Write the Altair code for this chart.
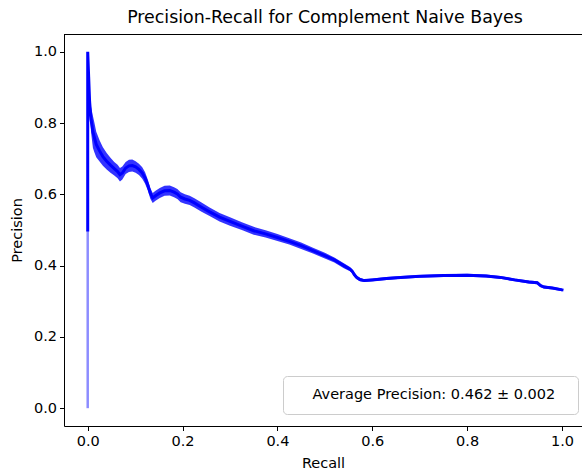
import altair as alt
import pandas as pd

# Mean precision-recall curve across folds, with the fold-to-fold spread
recall = [0.000, 0.002, 0.004, 0.007, 0.011, 0.014, 0.018, 0.025, 0.032, 0.040,
          0.048, 0.056, 0.063, 0.068, 0.073, 0.080, 0.087, 0.094, 0.101, 0.108,
          0.115, 0.121, 0.127, 0.132, 0.137, 0.143, 0.152, 0.162, 0.173, 0.182,
          0.189, 0.196, 0.205, 0.215, 0.225, 0.240, 0.257, 0.278, 0.300, 0.325,
          0.350, 0.375, 0.400, 0.425, 0.450, 0.475, 0.500, 0.520, 0.540, 0.553,
          0.558, 0.562, 0.567, 0.574, 0.583, 0.600, 0.630, 0.660, 0.700, 0.750,
          0.800, 0.840, 0.870, 0.900, 0.930, 0.948, 0.955, 0.962, 0.980, 1.000]
precision = [1.000, 0.930, 0.860, 0.810, 0.775, 0.760, 0.740, 0.722, 0.706, 0.693,
             0.682, 0.672, 0.664, 0.655, 0.660, 0.674, 0.680, 0.681, 0.677, 0.670,
             0.660, 0.646, 0.625, 0.603, 0.590, 0.596, 0.604, 0.610, 0.611, 0.606,
             0.601, 0.592, 0.587, 0.583, 0.576, 0.564, 0.551, 0.536, 0.524, 0.511,
             0.498, 0.489, 0.479, 0.468, 0.456, 0.442, 0.428, 0.416, 0.400, 0.390,
             0.384, 0.375, 0.367, 0.361, 0.358, 0.360, 0.364, 0.367, 0.370, 0.372,
             0.373, 0.371, 0.367, 0.360, 0.354, 0.352, 0.344, 0.340, 0.337, 0.332]
spread = [0.000, 0.006, 0.015, 0.035, 0.045, 0.042, 0.036, 0.030, 0.026, 0.023,
          0.021, 0.019, 0.019, 0.019, 0.018, 0.017, 0.017, 0.017, 0.016, 0.016,
          0.016, 0.016, 0.015, 0.015, 0.014, 0.014, 0.014, 0.014, 0.014, 0.014,
          0.014, 0.014, 0.013, 0.013, 0.013, 0.013, 0.012, 0.012, 0.012, 0.011,
          0.011, 0.010, 0.010, 0.009, 0.009, 0.008, 0.008, 0.007, 0.007, 0.006,
          0.006, 0.006, 0.005, 0.005, 0.004, 0.004, 0.004, 0.004, 0.004, 0.004,
          0.004, 0.004, 0.004, 0.004, 0.004, 0.004, 0.004, 0.004, 0.004, 0.004]

# Vertical stem at recall 0 (only one fold reaches down to zero precision)
stem_recall = [0.0, 0.0]
stem_precision = [0.0, 0.5]

x_ticks = [0.0, 0.2, 0.4, 0.6, 0.8, 1.0]
y_ticks = [0.0, 0.2, 0.4, 0.6, 0.8, 1.0]
legend_label = "Average Precision: 0.462 ± 0.002"

BLUE = "#0000ff"
FONT = "DejaVu Sans"
W, H = 518, 392

band_df = pd.DataFrame({"recall": recall, "precision": precision, "spread": spread})
band_df["lo"] = band_df["precision"] - band_df["spread"]
band_df["hi"] = band_df["precision"] + band_df["spread"]

mean_df = pd.DataFrame({
    "recall": [stem_recall[-1]] + recall,
    "precision": [stem_precision[-1]] + precision,
})
mean_df["step"] = range(len(mean_df))
mean_df["label"] = legend_label

stem_df = pd.DataFrame({"recall": stem_recall, "precision": stem_precision})
frame_df = pd.DataFrame({"k": [0]})

x_scale = alt.Scale(domain=[-0.05, 1.0422], nice=False, zero=False)
y_scale = alt.Scale(domain=[-0.05, 1.05], nice=False, zero=False)

x_axis = alt.Axis(values=x_ticks, format=".1f", title="Recall", grid=False,
                  tickSize=4.5, labelPadding=3.5, titlePadding=9)
y_axis = alt.Axis(values=y_ticks, format=".1f", title="Precision", grid=False,
                  tickSize=4.5, labelPadding=3, titlePadding=8.5)

band = alt.Chart(band_df).mark_area(color=BLUE, opacity=0.8).encode(
    x=alt.X("recall:Q", scale=x_scale, axis=x_axis),
    y=alt.Y("lo:Q", scale=y_scale, axis=y_axis),
    y2=alt.Y2("hi:Q"),
)

stem = alt.Chart(stem_df).mark_line(color=BLUE, opacity=0.45, strokeWidth=2.5).encode(
    x=alt.X("recall:Q", scale=x_scale, axis=x_axis),
    y=alt.Y("precision:Q", scale=y_scale, axis=y_axis),
)

mean_line = alt.Chart(mean_df).mark_line(strokeWidth=3, strokeCap="square").encode(
    x=alt.X("recall:Q", scale=x_scale, axis=x_axis),
    y=alt.Y("precision:Q", scale=y_scale, axis=y_axis),
    order=alt.Order("step:Q"),
    color=alt.Color(
        "label:N",
        scale=alt.Scale(domain=[legend_label], range=[BLUE]),
        legend=alt.Legend(
            orient="none", legendX=219, legendY=342, title=None,
            symbolSize=0, symbolStrokeWidth=0, symbolOpacity=0,
            labelFontSize=14.5, labelColor="black", labelFont=FONT,
            labelOffset=3, labelLimit=400, padding=12,
            labelExpr="datum.label + '\u2800'",
            strokeColor="#cccccc", fillColor="white", cornerRadius=4,
        ),
    ),
)

# Top spine of the axes frame
top_spine = alt.Chart(frame_df).mark_rule(color="black", strokeWidth=1).encode(
    x=alt.value(0), x2=alt.value(W), y=alt.value(0.5),
)

chart = alt.layer(band, stem, mean_line, top_spine).properties(
    width=W,
    height=H,
    padding={"left": 64, "top": 34, "right": 0, "bottom": 50},
    autosize=alt.AutoSizeParams(type="none"),
    title=alt.TitleParams(
        "Precision-Recall for Complement Naive Bayes",
        fontSize=17.4, font=FONT, fontWeight="normal", color="black",
        anchor="middle", offset=8, dx=2,
    ),
).configure(
    font=FONT,
).configure_view(
    strokeWidth=0,
).configure_axis(
    domainColor="black", domainWidth=1, tickColor="black", tickWidth=1,
    labelFont=FONT, labelFontSize=14.5, labelColor="black",
    titleFont=FONT, titleFontSize=14.5, titleColor="black", titleFontWeight="normal",
)

chart.save("out.html", embed_options={"renderer": "svg", "actions": False})
